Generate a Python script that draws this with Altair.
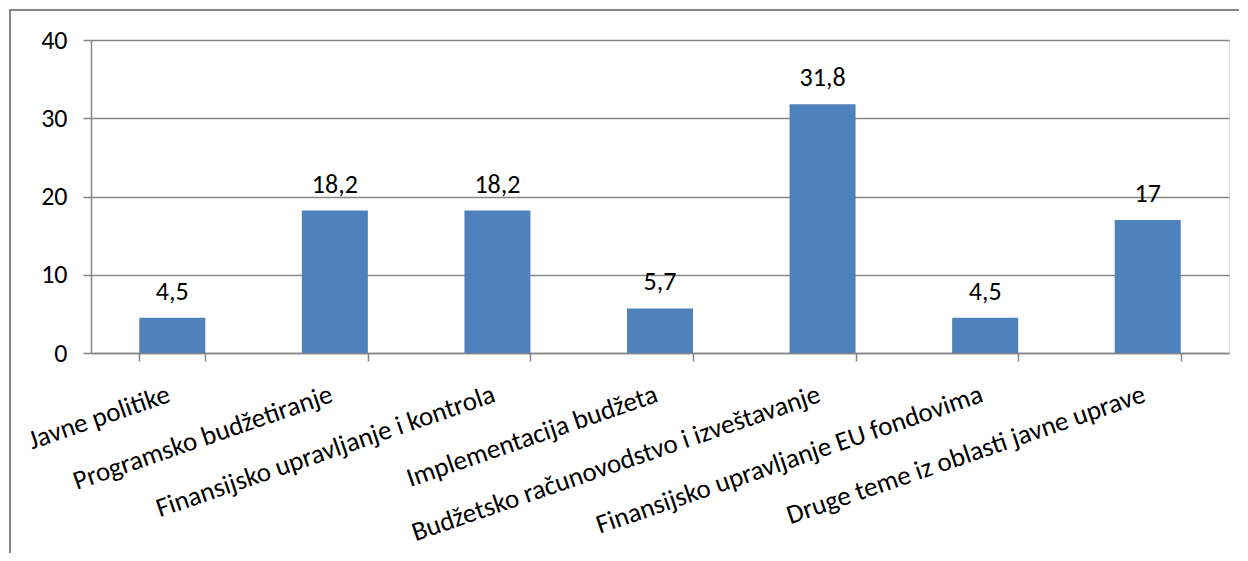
import altair as alt
import pandas as pd

categories = [
    "Javne politike",
    "Programsko budžetiranje",
    "Finansijsko upravljanje i kontrola",
    "Implementacija budžeta",
    "Budžetsko računovodstvo i izveštavanje",
    "Finansijsko upravljanje EU fondovima",
    "Druge teme iz oblasti javne uprave",
]
values = [4.5, 18.2, 18.2, 5.7, 31.8, 4.5, 17]
y_ticks = [0, 10, 20, 30, 40]

df = pd.DataFrame({"cat": categories, "value": values})

W, H = 1138, 313
FONT = "Carlito, Calibri, Lato, sans-serif"
GRAY = "#868686"
FS = 26

xscale = alt.Scale(domain=categories, paddingInner=0.594, paddingOuter=0.297)
yscale = alt.Scale(domain=[0, 40], nice=False)

base = alt.Chart(df)

bars = base.mark_bar(color="#4F81BD").encode(
    x=alt.X("cat:N", scale=xscale, sort=None,
            axis=alt.Axis(title=None, tickBand="extent", labelAngle=-19,
                          labelAlign="right", labelBaseline="top",
                          labelOffset=-8, labelPadding=20, tickSize=8,
                          labelFont=FONT, labelFontSize=27, labelColor="#000",
                          labelLimit=600, tickColor=GRAY, domainColor=GRAY,
                          tickWidth=1.5, domainWidth=1.5, grid=False,
                          labelOverlap=False)),
    y=alt.Y("value:Q", scale=yscale,
            axis=alt.Axis(title=None, values=y_ticks, tickSize=8, labelPadding=16,
                          labelFont=FONT, labelFontSize=FS, labelColor="#000",
                          tickColor=GRAY, domainColor=GRAY, gridColor=GRAY,
                          tickWidth=1.5, domainWidth=1.5, gridWidth=1.5)),
)

texts = base.transform_calculate(
    lbl="replace(format(datum.value, ''), '.', ',')"
).mark_text(font=FONT, fontSize=FS, color="#000", baseline="alphabetic", dy=-18).encode(
    x=alt.X("cat:N", scale=xscale, sort=None),
    y=alt.Y("value:Q", scale=yscale),
    text="lbl:N",
)

border = base.mark_rect(fill=None, stroke=GRAY, strokeWidth=1.5).encode(
    x=alt.value(-81), x2=alt.value(1400), y=alt.value(-30), y2=alt.value(900)
)

chart = alt.layer(border, bars, texts).properties(
    width=W, height=H,
    autosize=alt.AutoSizeParams(type="none"),
    padding={"left": 83, "top": 32, "right": 10, "bottom": 200},
).configure_view(stroke=None).configure(background="white")

chart.save("out.html", embed_options={"renderer": "svg", "actions": False})
